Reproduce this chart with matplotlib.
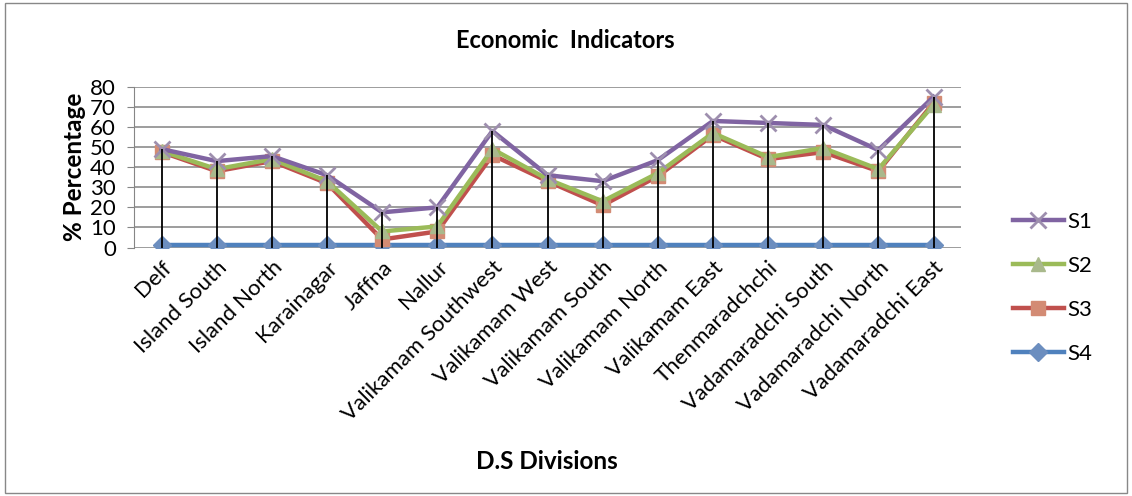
import matplotlib.pyplot as plt
import numpy as np

divisions = ["Delf", "Island South", "Island North", "Karainagar", "Jaffna", "Nallur",
             "Valikamam Southwest", "Valikamam West", "Valikamam South", "Valikamam North",
             "Valikamam East", "Thenmaradchchi", "Vadamaradchi South", "Vadamaradchi North",
             "Vadamaradchi East"]
s1 = [49, 43, 45.5, 36, 17.5, 20, 58, 36, 33, 43.5, 63, 62, 61, 48.5, 75]
s2 = [48, 39, 44, 33, 8, 10.5, 49, 34, 23, 37, 57, 45, 49.5, 39, 71]
s3 = [47.5, 38, 43, 32, 4, 8, 46, 33, 21, 35.5, 56, 44, 47.5, 38, 72]
s4 = [1] * 15

plt.rcParams['font.family'] = ['Lato', 'DejaVu Sans']

fig = plt.figure(figsize=(11.32, 4.96), dpi=100)
ax = fig.add_axes([0.1184, 0.501, 0.7306, 0.324])
x = np.arange(len(divisions))

# drop lines from the top series to the axis
ax.vlines(x, 0, np.maximum.reduce([s1, s2, s3]), color='black', lw=1.3, zorder=6)

ax.plot(x, s4, color='#4F81BD', lw=3.2, marker='D', ms=9, mfc='#6C8EBF', mec='#6C8EBF',
        label='S4', zorder=3)
ax.plot(x, s3, color='#C0504D', lw=3.2, marker='s', ms=10, mfc='#D38B74', mec='#D38B74',
        label='S3', zorder=3)
ax.plot(x, s2, color='#9BBB59', lw=3.2, marker='^', ms=10, mfc='#A9B98C', mec='#A9B98C',
        label='S2', zorder=4)
ax.plot(x, s1, color='#8064A2', lw=3.2, marker='x', ms=11, mew=2, mfc='#9E8FAE', mec='#9E8FAE',
        label='S1', zorder=5)

ax.set_xlim(-0.5, len(divisions) - 0.5)
ax.set_ylim(0, 80)
ax.set_yticks(range(0, 81, 10))
ax.set_xticks(x)
ax.set_xticklabels(divisions, rotation=45, ha='right', rotation_mode='anchor', fontsize=16)
ax.tick_params(axis='y', labelsize=16, length=5, color='#868686', pad=8)
ax.tick_params(axis='x', length=0, pad=7)
ax.grid(axis='y', color='#8C8C8C', lw=1.2)
ax.set_axisbelow(True)
for side in ['top', 'right', 'bottom']:
    ax.spines[side].set_visible(False)
ax.spines['left'].set_color('#868686')

ax.set_ylabel("% Percentage", fontsize=17.5, fontweight='bold', labelpad=3)
fig.text(0.499, 0.918, "Economic  Indicators", ha='center', va='center', fontsize=17, fontweight='bold')
fig.text(0.483, 0.07, "D.S Divisions", ha='center', va='center', fontsize=17.5, fontweight='bold')

handles, labels = ax.get_legend_handles_labels()
fig.legend(handles[::-1], labels[::-1], loc='center left', bbox_to_anchor=(0.877, 0.42),
           frameon=False, fontsize=16, labelspacing=1.08, handlelength=2.3, handletextpad=0.15)

fig.patches.append(plt.Rectangle((0.004, 0.006), 0.992, 0.988, transform=fig.transFigure,
                                 fill=False, edgecolor='#888888', lw=1))

fig.savefig('out.png', dpi=100)
